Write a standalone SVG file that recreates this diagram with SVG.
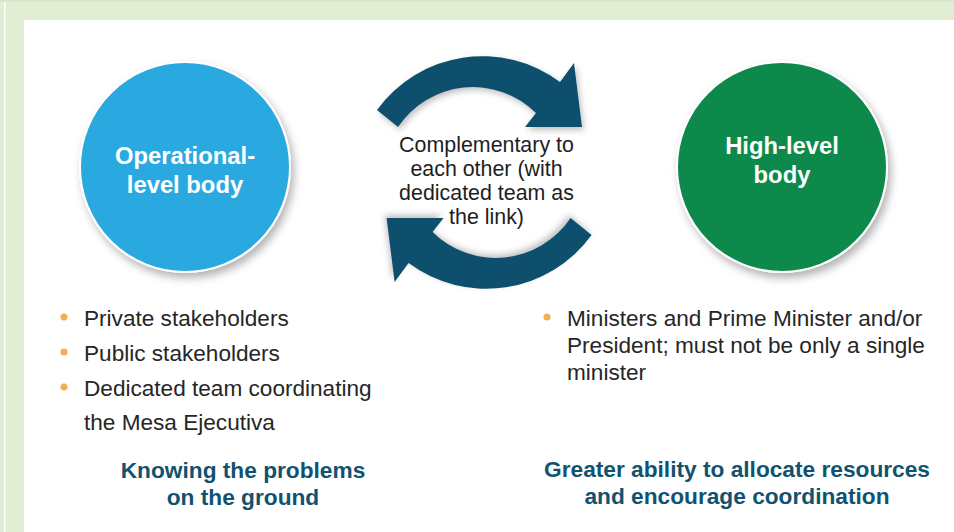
<svg xmlns="http://www.w3.org/2000/svg" width="954" height="532" viewBox="0 0 954 532">
<defs>
<style>
.node{font-family:"Liberation Sans",Arial,sans-serif;font-weight:bold;font-size:23.8px;fill:#ffffff;text-anchor:middle}
.mid{font-family:"Liberation Sans",Arial,sans-serif;font-size:21.4px;fill:#1e1e1e;text-anchor:middle}
.bul{font-family:"Liberation Sans",Arial,sans-serif;font-size:22.6px;fill:#262626}
.sum{font-family:"Liberation Sans",Arial,sans-serif;font-weight:bold;font-size:22.7px;fill:#10526f;text-anchor:middle}
.dot{fill:#f5ad4f}
.arrow{fill:#11506d;filter:url(#sh2)}
</style>
<filter id="sh" x="-20%" y="-20%" width="150%" height="150%">
<feDropShadow dx="3" dy="5" stdDeviation="4" flood-color="#000" flood-opacity="0.3"/>
</filter>
<filter id="sh2" x="-20%" y="-20%" width="150%" height="150%">
<feDropShadow dx="2" dy="3" stdDeviation="3" flood-color="#000" flood-opacity="0.25"/>
</filter>
</defs>
<rect x="0" y="0" width="954" height="532" fill="#ffffff"/>
<rect x="0" y="0" width="954" height="20" fill="#e1eed4"/>
<rect x="0" y="0" width="24" height="532" fill="#e1eed4"/>
<rect x="0" y="0" width="954" height="1.5" fill="#d6e7c6"/>
<rect x="4" y="2" width="1.5" height="530" fill="#ffffff"/>

<g id="operational">
<circle cx="185" cy="167" r="105" fill="#29a9e1" stroke="#ffffff" stroke-width="2" filter="url(#sh)"/>
<text class="node" x="185" y="164">Operational-</text>
<text class="node" x="185" y="193">level body</text>
</g>

<g id="highlevel">
<circle cx="782" cy="167" r="105" fill="#0e8a4c" stroke="#ffffff" stroke-width="2" filter="url(#sh)"/>
<text class="node" x="782" y="154">High-level</text>
<text class="node" x="782" y="183">body</text>
</g>

<g id="connectors">
<path class="arrow" d="M377,110 A130,130 0 0 1 560,82 L574,63 L582,127 L525,127 L536,113 A90,90 0 0 0 398,127 Z"/>
<path class="arrow" transform="rotate(180 484.3 172.5)" d="M377,110 A130,130 0 0 1 560,82 L574,63 L582,127 L525,127 L536,113 A90,90 0 0 0 398,127 Z"/>
</g>

<g id="link-label">
<text class="mid" x="486.5" y="152">Complementary to</text>
<text class="mid" x="486.5" y="176">each other (with</text>
<text class="mid" x="486.5" y="200">dedicated team as</text>
<text class="mid" x="486.5" y="224">the link)</text>
</g>

<g id="left-list">
<circle class="dot" cx="64" cy="317" r="3.5"/>
<circle class="dot" cx="64" cy="352" r="3.5"/>
<circle class="dot" cx="64" cy="387" r="3.5"/>
<text class="bul" x="84" y="326">Private stakeholders</text>
<text class="bul" x="84" y="361">Public stakeholders</text>
<text class="bul" x="84" y="396">Dedicated team coordinating</text>
<text class="bul" x="84" y="430">the Mesa Ejecutiva</text>
<text class="sum" x="243" y="478">Knowing the problems</text>
<text class="sum" x="243" y="505">on the ground</text>
</g>

<g id="right-list">
<circle class="dot" cx="547" cy="317" r="3.5"/>
<text class="bul" x="567" y="326">Ministers and Prime Minister and/or</text>
<text class="bul" x="567" y="353">President; must not be only a single</text>
<text class="bul" x="567" y="380">minister</text>
<text class="sum" x="737" y="477">Greater ability to allocate resources</text>
<text class="sum" x="737" y="504">and encourage coordination</text>
</g>
</svg>
